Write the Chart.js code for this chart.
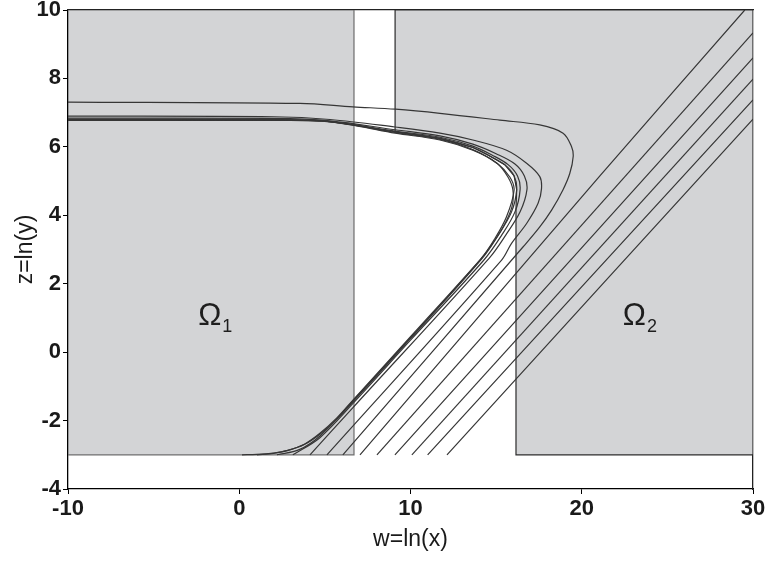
<!DOCTYPE html>
<html>
<head>
<meta charset="utf-8">
<script src="https://cdn.jsdelivr.net/npm/chart.js@4.4.0/dist/chart.umd.min.js"></script>
<style>
body{margin:0;background:#fff}
#wrap{width:769px;height:567px}
</style>
</head>
<body>
<div id="wrap"><canvas id="chart" width="769" height="567"></canvas></div>
<script>
// ticks
var wTicks = [-10, 0, 10, 20, 30]
var zTicks = [-4, -2, 0, 2, 4, 6, 8, 10]

// shaded regions, points are [w, z]
var omega1 = [[-10,-3],[-10,10],[6.7,10],[6.7,-3],[-10,-3]]
var omega2 = [[9.1,10],[30,10],[30,-3],[16.16,-3],[16.16,4.2],[16.2,4.75],[16.05,5.15],[15.5,5.48],[14.6,5.74],[13.64,5.98],[11.72,6.25],[9.1,6.44],[9.1,10]]

// trajectories going on into Omega2
var esc7 = [[7.05,-3],[21.06,5.15],[29.52,10]]
var esc8 = [[8.04,-3],[30,9.33]]
var esc9 = [[9.09,-3],[30,8.6]]
var esc10 = [[10.08,-3],[30,7.98]]
var esc11 = [[11.0,-3],[30,7.37]]
var esc12 = [[12.13,-3],[30,6.81]]

// trajectories turning back into Omega1
var ret6 = [[6.05,-3],[16.58,3.08],[17.55,3.66],[18.24,4.15],[18.9,4.74],[19.3,5.22],[19.5,5.72],[19.4,6.01],[18.91,6.4],[17.55,6.64],[15.22,6.78],[11.72,6.98],[9.13,7.1],[6.64,7.17],[3.54,7.27],[-10,7.31]]
var ret5 = [[5.12,-3],[15.32,2.69],[15.9,3.18],[16.78,3.76],[17.45,4.35],[17.65,4.78],[17.55,5.13],[16.78,5.52],[15.61,5.9],[13.64,6.2],[11.72,6.4],[9.1,6.58],[5.3,6.8],[2,6.88],[-10,6.9]]
var ret4 = [[4.13,-3],[6.64,-1.62],[14.6,2.75],[15.6,3.45],[16.4,4.1],[16.8,4.75],[16.65,5.15],[16.1,5.5],[15.0,5.8],[13.64,6.08],[11.72,6.32],[9.1,6.5],[5.3,6.76],[2,6.83],[-10,6.84]]
var ret3 = [[3.13,-3],[4.71,-2.5],[6.64,-1.5],[10,0.35],[14.3,2.7],[15.3,3.4],[16.1,4.1],[16.4,4.75],[16.25,5.15],[15.7,5.48],[14.8,5.75],[13.64,6.02],[11.72,6.28],[9.1,6.46],[5.3,6.74],[2,6.8],[-10,6.81]]
var ret2 = [[2.2,-3],[3.5,-2.85],[4.71,-2.45],[6.64,-1.45],[10,0.4],[14.2,2.75],[15.1,3.4],[15.9,4.1],[16.2,4.75],[16.05,5.15],[15.5,5.48],[14.6,5.74],[13.64,5.98],[11.72,6.25],[9.1,6.44],[5.3,6.74],[2,6.79],[-10,6.8]]
var ret1 = [[1.03,-3],[2,-2.96],[2.78,-2.88],[3.8,-2.7],[4.71,-2.4],[5.7,-1.95],[6.64,-1.42],[10,0.42],[14.1,2.72],[14.9,3.3],[15.6,3.95],[16.05,4.74],[15.8,5.12],[15.1,5.5],[13.64,5.92],[11.72,6.22],[9.1,6.42],[5.3,6.74],[2,6.78],[-10,6.79]]
var ret0 = [[0.16,-3],[1.03,-2.99],[2,-2.95],[2.78,-2.88],[3.8,-2.69],[4.71,-2.37],[5.7,-1.92],[6.64,-1.4],[10,0.45],[14.05,2.69],[14.64,3.07],[15.4,3.65],[15.92,4.24],[15.98,4.74],[15.69,5.12],[15.04,5.53],[13.64,5.9],[11.72,6.2],[9.1,6.4],[7,6.6],[5.3,6.73],[3,6.77],[-10,6.77]]

// region labels
var omegaNames = ['\u03a9', '\u03a9']
var omegaSubs = ['1', '2']
var omegaW = [-2.4, 22.4]
var omegaZ = [0.79, 0.79]

var FONT = '"Liberation Sans", Arial, sans-serif'

function pts(a) {
    return a.map(function(p) { return {x: p[0], y: p[1]} })
}

function curve(a) {
    return {
        data: pts(a),
        showLine: true,
        pointRadius: 0,
        borderColor: '#363636',
        borderWidth: 1.2,
        tension: 0.35,
        fill: false,
        order: 0
    }
}

function region(a, edge) {
    return {
        data: pts(a),
        showLine: true,
        pointRadius: 0,
        borderColor: edge,
        borderWidth: 1.2,
        backgroundColor: 'rgb(211,212,214)',
        tension: 0,
        fill: 'shape',
        order: 5
    }
}

var datasets = [
    region(omega1, '#6e6e6e'),
    region(omega2, '#2c2c2c')
]
var curves = [esc7, esc8, esc9, esc10, esc11, esc12, ret6, ret5, ret4, ret3, ret2, ret1, ret0]
for (var i = 0; i < curves.length; i++) datasets.push(curve(curves[i]))

// omega labels
var omegaPlugin = {
    id: 'omega',
    afterDatasetsDraw: function(chart) {
        var ctx = chart.ctx
        var xs = chart.scales.x, ys = chart.scales.y
        ctx.save()
        ctx.fillStyle = '#1e1e1e'
        ctx.textBaseline = 'alphabetic'
        ctx.textAlign = 'left'
        for (var i = 0; i < omegaNames.length; i++) {
            var px = xs.getPixelForValue(omegaW[i])
            var py = ys.getPixelForValue(omegaZ[i])
            ctx.font = '31px ' + FONT
            ctx.fillText(omegaNames[i], px, py)
            var w = ctx.measureText(omegaNames[i]).width
            ctx.font = '18px ' + FONT
            ctx.fillText(omegaSubs[i], px + w + 1, py + 7)
        }
        ctx.restore()
    }
}

var tickFont = {family: FONT, size: 22, weight: 'bold'}
var titleFont = {family: FONT, size: 23}

new Chart(document.getElementById('chart'), {
    type: 'scatter',
    data: {datasets: datasets},
    options: {
        responsive: false,
        animation: false,
        layout: {padding: {top: 10, right: 16, left: 0, bottom: 0}},
        plugins: {legend: {display: false}, tooltip: {enabled: false}},
        scales: {
            x: {
                type: 'linear', position: 'bottom', min: -10, max: 30,
                afterBuildTicks: function(s) { s.ticks = wTicks.map(function(v) { return {value: v} }) },
                ticks: {font: tickFont, color: '#1a1a1a', padding: 2},
                grid: {drawOnChartArea: false, drawTicks: true, tickLength: 5, color: '#000'},
                border: {color: '#000', width: 1.3},
                title: {display: true, text: 'w=ln(x)', font: titleFont, color: '#1a1a1a', padding: {top: 4, bottom: 14}},
                afterFit: function(s) { s.height = 78; s.paddingLeft = 0; s.paddingRight = 0 }
            },
            y: {
                type: 'linear', position: 'left', min: -4, max: 10,
                afterBuildTicks: function(s) { s.ticks = zTicks.map(function(v) { return {value: v} }) },
                ticks: {font: tickFont, color: '#1a1a1a', padding: 2},
                grid: {drawOnChartArea: false, drawTicks: true, tickLength: 5, color: '#000'},
                border: {color: '#000', width: 1.3},
                title: {display: true, text: 'z=ln(y)', font: titleFont, color: '#1a1a1a', padding: {top: 12, bottom: 0}},
                afterFit: function(s) { s.width = 68; s.paddingTop = 0; s.paddingBottom = 0 }
            },
            xTop: {
                type: 'linear', position: 'top', min: -10, max: 30,
                ticks: {display: false},
                grid: {display: false, drawTicks: false},
                border: {color: '#222', width: 1.3},
                afterFit: function(s) { s.height = 0 }
            },
            yRight: {
                type: 'linear', position: 'right', min: -4, max: 10,
                ticks: {display: false},
                grid: {display: false, drawTicks: false},
                border: {color: '#222', width: 1.3},
                afterFit: function(s) { s.width = 0 }
            }
        }
    },
    plugins: [omegaPlugin]
})
</script>
</body>
</html>
